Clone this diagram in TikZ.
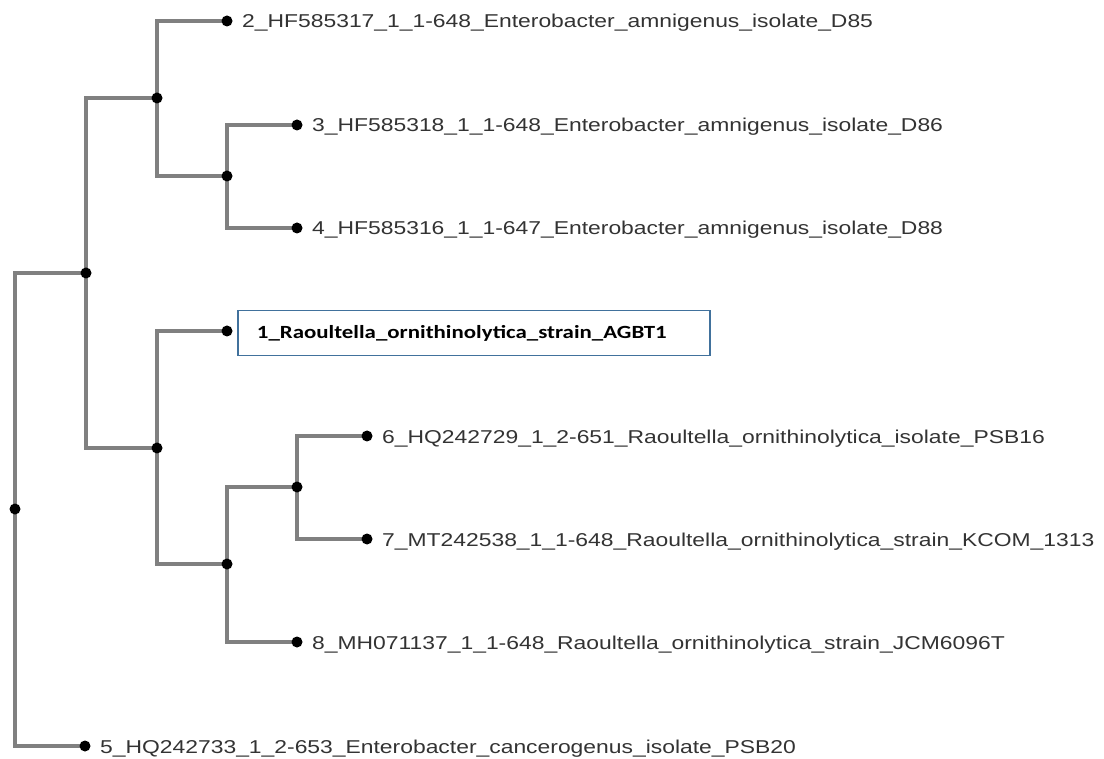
\documentclass[tikz,border=0pt]{standalone}
\usepackage{fontspec}
\setmainfont{Liberation Sans}
\newfontfamily\leaffont[FakeStretch=1.23]{Liberation Sans}
\newfontfamily\boxfont[FakeStretch=1.23]{Carlito}
\definecolor{branch}{HTML}{808080}
\definecolor{leaftext}{HTML}{333333}
\definecolor{boxblue}{HTML}{41719C}
\begin{document}
\begin{tikzpicture}[x=1pt,y=-1pt,
  branchline/.style={draw=branch,line width=4pt,line join=miter},
  dotnode/.style={circle,fill=black,inner sep=0pt,minimum size=11pt},
  leaflabel/.style={anchor=base west,inner sep=0pt,text=leaftext,font=\leaffont\fontsize{18.6}{22}\selectfont},
  boxlabel/.style={draw=boxblue,line width=1.8pt,fill=white,anchor=west,inner sep=0pt,
    minimum width=472pt,minimum height=45pt,text width=434pt,align=left,
    font=\boxfont\bfseries\fontsize{18.6}{22}\selectfont}]
\useasboundingbox (0,0) rectangle (1104,759);
% internal nodes
\coordinate (root) at (15,509);
\coordinate (A) at (86,273);
\coordinate (B) at (157,98);
\coordinate (C) at (227,176);
\coordinate (D) at (157,448);
\coordinate (E) at (227,564);
\coordinate (F) at (297,487);
% leaves
\coordinate (l2) at (227,21);
\coordinate (l3) at (297,125);
\coordinate (l4) at (297,228);
\coordinate (l1) at (227,331);
\coordinate (l6) at (367,436);
\coordinate (l7) at (367,539);
\coordinate (l8) at (297,642);
\coordinate (l5) at (85,746);
% branches
\draw[branchline] (root) |- (A);
\draw[branchline] (root) |- (l5);
\draw[branchline] (A) |- (B);
\draw[branchline] (A) |- (D);
\draw[branchline] (B) |- (l2);
\draw[branchline] (B) |- (C);
\draw[branchline] (C) |- (l3);
\draw[branchline] (C) |- (l4);
\draw[branchline] (D) |- (l1);
\draw[branchline] (D) |- (E);
\draw[branchline] (E) |- (F);
\draw[branchline] (E) |- (l8);
\draw[branchline] (F) |- (l6);
\draw[branchline] (F) |- (l7);
% dots
\foreach \p in {root,A,B,C,D,E,F,l1,l2,l3,l4,l5,l6,l7,l8}
  \node[dotnode] (dot-\p) at (\p) {};
% labels
\node[leaflabel] (t2) at ([xshift=15pt,yshift=-7pt]l2) {2\_HF585317\_1\_1-648\_Enterobacter\_amnigenus\_isolate\_D85};
\node[leaflabel] (t3) at ([xshift=15pt,yshift=-7pt]l3) {3\_HF585318\_1\_1-648\_Enterobacter\_amnigenus\_isolate\_D86};
\node[leaflabel] (t4) at ([xshift=15pt,yshift=-7pt]l4) {4\_HF585316\_1\_1-647\_Enterobacter\_amnigenus\_isolate\_D88};
\node[leaflabel] (t6) at ([xshift=15pt,yshift=-7pt]l6) {6\_HQ242729\_1\_2-651\_Raoultella\_ornithinolytica\_isolate\_PSB16};
\node[leaflabel] (t7) at ([xshift=15pt,yshift=-7pt]l7) {7\_MT242538\_1\_1-648\_Raoultella\_ornithinolytica\_strain\_KCOM\_1313};
\node[leaflabel] (t8) at ([xshift=15pt,yshift=-7pt]l8) {8\_MH071137\_1\_1-648\_Raoultella\_ornithinolytica\_strain\_JCM6096T};
\node[leaflabel] (t5) at ([xshift=15pt,yshift=-7pt]l5) {5\_HQ242733\_1\_2-653\_Enterobacter\_cancerogenus\_isolate\_PSB20};
\node[boxlabel] (t1) at ([xshift=10pt,yshift=-2pt]l1) {1\_Raoultella\_ornithinolytica\_strain\_AGBT1};
\end{tikzpicture}
\end{document}
